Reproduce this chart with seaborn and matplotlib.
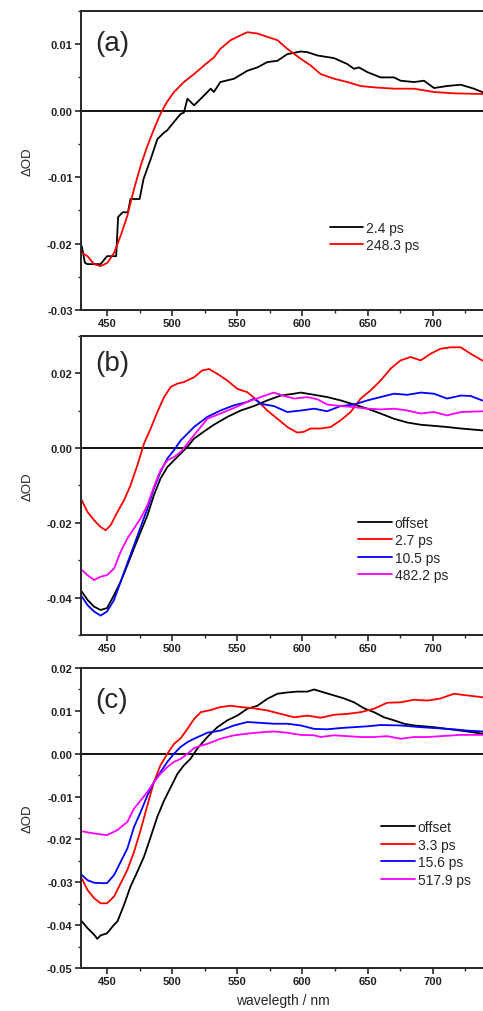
import numpy as np
import pandas as pd
import matplotlib
matplotlib.use("Agg")
import matplotlib.pyplot as plt
import seaborn as sns
from matplotlib.ticker import MultipleLocator, FuncFormatter

sns.set_style("ticks")
plt.rcParams['font.family'] = ['Liberation Sans', 'DejaVu Sans']

# ---------------- data ----------------
# panel (a)
a_k_wl = [430.6, 433, 435, 440, 445, 450, 457, 458.5, 462, 466, 468, 475, 478, 483.5, 488.6, 493.8, 496,
          501, 506.5, 509, 511.7, 516.8, 522, 529.6, 532, 537, 547.5, 557.7, 565.4, 573, 580.8, 588.4,
          598.7, 603.8, 611.5, 624.3, 634.5, 639.6, 643.4, 649.8, 660, 670.3, 675.4, 685.7, 693.3, 701,
          711, 721.5, 731.7, 738, 740]
a_k_od = [-0.0204, -0.0229, -0.0231, -0.0231, -0.0231, -0.0219, -0.0219, -0.0160, -0.0153, -0.0153, -0.0133,
          -0.0133, -0.0103, -0.0073, -0.0043, -0.0033, -0.0030, -0.0018, -0.0005, -0.0003, 0.0018, 0.0008,
          0.0018, 0.0033, 0.0028, 0.0043, 0.0048, 0.0060, 0.0065, 0.0073, 0.0075, 0.0085, 0.0089, 0.0088,
          0.0083, 0.0079, 0.0070, 0.0063, 0.0065, 0.0058, 0.0050, 0.0050, 0.0045, 0.0043, 0.0045, 0.0034,
          0.0037, 0.0039, 0.0033, 0.0028, 0.0027]
a_r_wl = [430.6, 435, 440, 445, 450.3, 455.4, 460.5, 465.6, 470.7, 475.8, 481, 486, 491, 496, 501.4, 509,
          516.8, 524.5, 532, 537, 544.9, 550, 557.7, 565.4, 573, 580.8, 588.4, 598.7, 606.3, 614, 624.3,
          634.5, 644.7, 655, 670.3, 685.7, 701, 716.4, 738, 740]
a_r_od = [-0.0214, -0.0219, -0.0231, -0.0234, -0.0229, -0.0214, -0.0188, -0.0158, -0.0118, -0.0083, -0.0053,
          -0.0028, -0.0005, 0.0013, 0.0028, 0.0043, 0.0055, 0.0068, 0.0080, 0.0093, 0.0106, 0.0111, 0.0118,
          0.0116, 0.0111, 0.0106, 0.0093, 0.0078, 0.0068, 0.0055, 0.0048, 0.0043, 0.0037, 0.0035, 0.0033,
          0.0033, 0.0028, 0.0026, 0.0025, 0.0025]

# panel (b)
b_k_wl = [430.6, 435, 440, 445, 450, 455.4, 460.5, 465.6, 470.7, 475.8, 481, 486, 491, 496.3, 501.4, 506.5,
          511.7, 516.8, 522, 532, 542.4, 552.6, 562.8, 573, 583.3, 593.6, 598.7, 609, 619, 629.4, 639.6,
          649.8, 660, 670.3, 680.5, 690.8, 701, 711, 721.5, 738, 740]
b_k_od = [-0.0384, -0.0406, -0.0424, -0.0433, -0.0428, -0.0393, -0.0357, -0.0313, -0.0268, -0.0224, -0.0180,
          -0.0126, -0.0082, -0.0051, -0.0033, -0.0015, 0.0003, 0.0025, 0.0038, 0.0062, 0.0083, 0.0100,
          0.0112, 0.0127, 0.0140, 0.0145, 0.0148, 0.0142, 0.0136, 0.0127, 0.0116, 0.0105, 0.0092, 0.0078,
          0.0068, 0.0062, 0.0059, 0.0056, 0.0052, 0.0047, 0.0047]
b_r_wl = [430.6, 435, 440, 445, 449, 452.8, 458, 463, 468, 473.3, 478.4, 483.5, 488.6, 493.8, 498.9, 504,
          509, 516.8, 523, 528.3, 534.7, 542.4, 550, 557.7, 565.4, 573, 580.8, 588.4, 596, 601, 606.3, 614,
          621.7, 629.4, 637, 644.7, 652.4, 660, 667.7, 675.4, 683, 690.8, 698.5, 706, 713.8, 721.5, 729,
          738, 740]
b_r_od = [-0.0140, -0.0171, -0.0193, -0.0211, -0.0220, -0.0206, -0.0171, -0.0140, -0.0100, -0.0046, 0.0012,
          0.0052, 0.0096, 0.0136, 0.0163, 0.0172, 0.0176, 0.0189, 0.0207, 0.0211, 0.0198, 0.0180, 0.0158,
          0.0149, 0.0127, 0.0100, 0.0078, 0.0056, 0.0041, 0.0043, 0.0052, 0.0052, 0.0056, 0.0074, 0.0096,
          0.0132, 0.0154, 0.0180, 0.0212, 0.0234, 0.0243, 0.0234, 0.0252, 0.0265, 0.0269, 0.0269, 0.0252,
          0.0234, 0.0232]
b_b_wl = [430.6, 435, 440, 445, 450, 455.4, 460.5, 465.6, 470.7, 475.8, 481, 486, 491, 496.3, 501.4, 506.5,
          511.7, 516.8, 527, 537, 547.5, 557.7, 562.8, 568, 578, 588.4, 598.7, 609, 619, 629.4, 639.6, 649.8,
          660, 670.3, 680.5, 690.8, 701, 711, 721.5, 729, 738, 740]
b_b_od = [-0.0397, -0.0420, -0.0437, -0.0448, -0.0437, -0.0406, -0.0357, -0.0308, -0.0260, -0.0211, -0.0162,
          -0.0108, -0.0064, -0.0028, -0.0006, 0.0020, 0.0038, 0.0056, 0.0083, 0.0100, 0.0114, 0.0123,
          0.0132, 0.0118, 0.0112, 0.0096, 0.0100, 0.0105, 0.0098, 0.0112, 0.0116, 0.0127, 0.0136, 0.0145,
          0.0142, 0.0148, 0.0145, 0.0132, 0.0140, 0.0139, 0.0127, 0.0126]
b_m_wl = [430.6, 435, 440, 445, 450, 455.4, 460.5, 465.6, 470.7, 475.8, 481, 486, 491, 496.3, 501.4, 506.5,
          511.7, 516.8, 527, 537, 547.5, 557.7, 568, 578, 586, 593.6, 603.8, 611.5, 619, 629.4, 639.6,
          649.8, 660, 670.3, 680.5, 690.8, 701, 711, 721.5, 738, 740]
b_m_od = [-0.0326, -0.0340, -0.0353, -0.0344, -0.0340, -0.0322, -0.0277, -0.0242, -0.0215, -0.0188, -0.0153,
          -0.0104, -0.0060, -0.0033, -0.0024, -0.0011, 0.0012, 0.0034, 0.0078, 0.0092, 0.0107, 0.0123,
          0.0136, 0.0148, 0.0139, 0.0132, 0.0136, 0.0130, 0.0116, 0.0112, 0.0109, 0.0105, 0.0103, 0.0105,
          0.0100, 0.0092, 0.0096, 0.0087, 0.0096, 0.0098, 0.0098]

# panel (c)
c_k_wl = [430.6, 435, 440, 442.5, 445, 450, 455.4, 458, 463, 468, 473.3, 478.4, 483.5, 488.6, 493.8, 498.9,
          504, 509, 514, 519.3, 527, 534.7, 542.4, 550, 557.7, 565.4, 573, 580.8, 588.4, 596, 603.8, 609,
          616.5, 624.3, 632, 639.6, 647.3, 655, 662.6, 670.3, 678, 685.7, 693.3, 701, 711, 721.5, 738, 740]
c_k_od = [-0.0391, -0.0407, -0.0422, -0.0432, -0.0424, -0.0419, -0.0399, -0.0391, -0.0353, -0.0310, -0.0275,
          -0.0240, -0.0194, -0.0147, -0.0109, -0.0078, -0.0047, -0.0027, -0.0012, 0.0012, 0.0039, 0.0062,
          0.0078, 0.0089, 0.0105, 0.0112, 0.0128, 0.0140, 0.0143, 0.0145, 0.0145, 0.0150, 0.0143, 0.0136,
          0.0129, 0.0120, 0.0106, 0.0097, 0.0085, 0.0078, 0.0070, 0.0066, 0.0064, 0.0062, 0.0058, 0.0054,
          0.0047, 0.0047]
c_r_wl = [430.6, 435, 440, 445, 450, 455.4, 460.5, 465.6, 470.7, 475.8, 481, 486, 491, 496.3, 501.4, 506.5,
          511.7, 516.8, 522, 529.6, 537, 544.9, 552.6, 562.8, 573, 583.3, 593.6, 603.8, 614, 624.3, 634.5,
          644.7, 655, 665, 675.4, 685.7, 696, 706, 716.4, 726.6, 738, 740]
c_r_od = [-0.0291, -0.0318, -0.0337, -0.0349, -0.0349, -0.0333, -0.0302, -0.0271, -0.0229, -0.0178, -0.0120,
          -0.0066, -0.0027, 0.0000, 0.0023, 0.0036, 0.0058, 0.0081, 0.0097, 0.0102, 0.0109, 0.0112, 0.0109,
          0.0106, 0.0101, 0.0093, 0.0085, 0.0089, 0.0084, 0.0091, 0.0093, 0.0097, 0.0105, 0.0119, 0.0120,
          0.0126, 0.0124, 0.0129, 0.0140, 0.0136, 0.0132, 0.0130]
c_b_wl = [430.6, 435, 440, 445, 450, 455.4, 460.5, 465.6, 470.7, 475.8, 481, 486, 491, 496.3, 501.4, 506.5,
          511.7, 516.8, 527, 537, 547.5, 557.7, 568, 578, 588.4, 598.7, 609, 619, 629.4, 639.6, 649.8, 660,
          675.4, 690.8, 701, 716.4, 726.6, 738, 740]
c_b_od = [-0.0283, -0.0295, -0.0301, -0.0302, -0.0302, -0.0283, -0.0252, -0.0221, -0.0171, -0.0136, -0.0097,
          -0.0066, -0.0043, -0.0019, 0.0000, 0.0016, 0.0027, 0.0035, 0.0049, 0.0054, 0.0066, 0.0074,
          0.0072, 0.0070, 0.0070, 0.0066, 0.0058, 0.0057, 0.0060, 0.0062, 0.0064, 0.0067, 0.0066, 0.0062,
          0.0060, 0.0057, 0.0054, 0.0052, 0.0052]
c_m_wl = [430.6, 440, 450, 458, 465.6, 470.7, 475.8, 481, 486, 491, 496.3, 501.4, 506.5, 511.7, 516.8, 522,
          527, 537, 547.5, 557.7, 568, 578, 588.4, 598.7, 609, 614, 624.3, 634.5, 644.7, 655, 665, 675.4,
          685.7, 696, 706, 721.5, 738, 740]
c_m_od = [-0.0181, -0.0186, -0.0190, -0.0178, -0.0159, -0.0128, -0.0109, -0.0089, -0.0066, -0.0047, -0.0031,
          -0.0019, -0.0012, 0.0000, 0.0013, 0.0019, 0.0023, 0.0035, 0.0043, 0.0047, 0.0050, 0.0052, 0.0049,
          0.0044, 0.0043, 0.0039, 0.0043, 0.0041, 0.0039, 0.0039, 0.0041, 0.0035, 0.0039, 0.0039, 0.0041,
          0.0044, 0.0044, 0.0044]

labels_a = ['2.4 ps', '248.3 ps']
labels_b = ['offset', '2.7 ps', '10.5 ps', '482.2 ps']
labels_c = ['offset', '3.3 ps', '15.6 ps', '517.9 ps']
colors = ['#000000', '#ff0000', '#0000ff', '#ff00ff']

panels = [
    ('(a)', [(a_k_wl, a_k_od), (a_r_wl, a_r_od)], labels_a, (-0.03, 0.015), 0.01, 0.005, (0.617, 0.298), 0.893),
    ('(b)', [(b_k_wl, b_k_od), (b_r_wl, b_r_od), (b_b_wl, b_b_od), (b_m_wl, b_m_od)], labels_b,
     (-0.05, 0.03), 0.02, 0.01, (0.687, 0.399), 0.910),
    ('(c)', [(c_k_wl, c_k_od), (c_r_wl, c_r_od), (c_b_wl, c_b_od), (c_m_wl, c_m_od)], labels_c,
     (-0.05, 0.02), 0.01, 0.005, (0.744, 0.493), 0.894),
]

# axes boxes in figure fractions (left, bottom, width, height)
boxes = [(0.1677, 0.6927, 0.836, 0.2955),
         (0.1677, 0.3715, 0.836, 0.2958),
         (0.1677, 0.0425, 0.836, 0.2964)]

fig = plt.figure(figsize=(4.83, 10.12), dpi=100)

for (tag, series, labels, ylim, major, minor, leg_xy, tag_y), box in zip(panels, boxes):
    ax = fig.add_axes(box)
    frames = []
    for (wl, od), lab in zip(series, labels):
        frames.append(pd.DataFrame({'wl': wl, 'od': od, 'series': lab}))
    df = pd.concat(frames, ignore_index=True)
    sns.lineplot(data=df, x='wl', y='od', hue='series', palette=colors[:len(labels)],
                 hue_order=labels, estimator=None, sort=False, lw=1.3, ax=ax, legend=False)
    ax.axhline(0, color='black', lw=1.3, zorder=1)

    ax.set_xlim(430, 740)
    ax.set_ylim(*ylim)
    ax.xaxis.set_major_locator(MultipleLocator(50))
    ax.xaxis.set_minor_locator(MultipleLocator(25))
    ax.yaxis.set_major_locator(MultipleLocator(major))
    ax.yaxis.set_minor_locator(MultipleLocator(minor))
    ax.yaxis.set_major_formatter(FuncFormatter(lambda v, p: f'{round(v, 4) + 0.0:.2f}'))
    ax.tick_params(which='major', direction='out', length=4, width=1.2, labelsize=8, pad=2,
                   top=False, right=False)
    ax.tick_params(which='minor', direction='out', length=2.5, width=1.0, top=False, right=False)
    for lbl in ax.get_xticklabels() + ax.get_yticklabels():
        lbl.set_fontweight('bold')
        lbl.set_color('#222222')
    for s in ax.spines.values():
        s.set_visible(True)
        s.set_linewidth(1.4)
    ax.set_xlabel('')
    ax.set_ylabel('ΔOD', fontsize=9.5, labelpad=10)

    handles = [plt.Line2D([], [], color=c, lw=1.3) for c in colors[:len(labels)]]
    ax.legend(handles, labels, loc='upper left', bbox_to_anchor=leg_xy, frameon=False,
              fontsize=10, handlelength=2.4, handletextpad=0.2, labelspacing=0.25,
              borderpad=0, borderaxespad=0)
    ax.text(0.035, tag_y, tag, transform=ax.transAxes, fontsize=20, va='center', ha='left')

ax.set_xlabel('wavelegth / nm', fontsize=10, labelpad=5)

fig.savefig('out.png', dpi=100)
